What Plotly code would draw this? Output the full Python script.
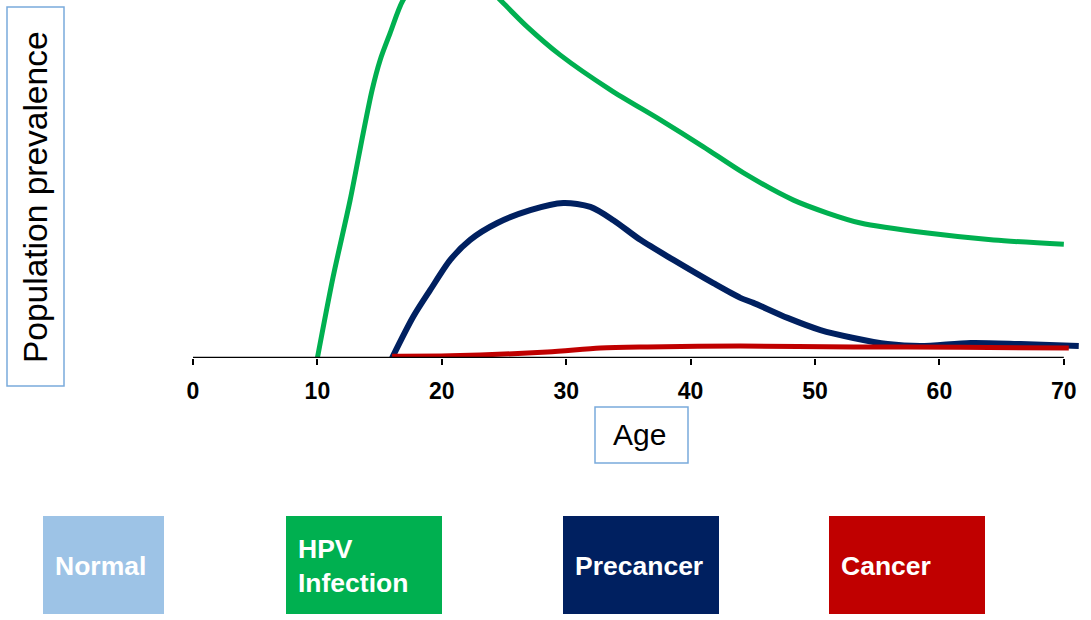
import plotly.graph_objects as go

# Natural history of HPV: prevalence by age (arbitrary units, 0-100 = visible height)
hpv_age = [10, 11.26, 12.63, 13.68, 14.40, 15.04, 15.85, 16.89, 18.5, 20.5, 23.0, 24.7,
           26.87, 29.53, 33.55, 37.57, 41.03, 44.25, 48.27, 51.0, 53.66, 59.05, 64.36, 70]
hpv_prev = [0, 22.6, 44.1, 62.8, 74.9, 83.2, 90.8, 100, 107, 110, 106, 100,
            92.5, 84.6, 74.9, 66.5, 59.0, 51.7, 44.1, 40.5, 37.7, 34.9, 32.96, 31.8]

pre_age = [16.0, 17.70, 19.07, 20.68, 22.28, 24.46, 27.11, 29.77, 31.94, 33.79, 35.96,
           38.62, 41.83, 44.0, 45.05, 47.79, 50.44, 53.10, 55.83, 58.49, 62.51, 66.53, 71.2]
pre_prev = [0, 11.5, 19.0, 27.4, 33.0, 37.7, 41.3, 43.3, 42.2, 38.5, 33.0,
            27.4, 20.9, 16.8, 15.4, 11.2, 7.8, 5.6, 3.9, 3.35, 4.2, 3.9, 3.35]

cancer_age = [16.0, 20.68, 28.48, 32.74, 36.52, 44.0, 53.1, 61.7, 70.4]
cancer_prev = [0.5, 0.6, 1.7, 2.8, 3.1, 3.35, 3.1, 3.0, 2.8]

x_ticks = [0, 10, 20, 30, 40, 50, 60, 70]

legend_labels = ["Normal", "HPV<br>Infection", "Precancer", "Cancer"]
legend_colors = ["#9dc3e6", "#00b050", "#002060", "#c00000"]

W, H = 1091, 620
L, R, T, B = 193, 11, 0, 262
PW, PH = W - L - R, H - T - B


def px(x):
    return (x - L) / PW


def py(y):
    return (H - B - y) / PH


FONT = "Liberation Sans, Arial, sans-serif"

fig = go.Figure()
fig.add_trace(go.Scatter(x=hpv_age, y=hpv_prev, mode="lines", line=dict(color="#00b050", width=5, shape="spline", smoothing=0.8)))
fig.add_trace(go.Scatter(x=pre_age, y=pre_prev, mode="lines", line=dict(color="#002060", width=6, shape="spline", smoothing=0.8)))
fig.add_trace(go.Scatter(x=cancer_age, y=cancer_prev, mode="lines", line=dict(color="#c00000", width=5, shape="spline", smoothing=0.8)))

shapes = [
    # x axis baseline from 0 to 70
    dict(type="line", xref="x", yref="y", x0=0, x1=70, y0=0, y1=0,
         line=dict(color="black", width=2.5), layer="above"),
    # title frames
    dict(type="rect", xref="paper", yref="paper", x0=px(7), x1=px(64), y0=py(7), y1=py(386),
         line=dict(color="#7aaadc", width=1.5)),
    dict(type="rect", xref="paper", yref="paper", x0=px(595), x1=px(688), y0=py(407), y1=py(463),
         line=dict(color="#7aaadc", width=1.5)),
]

annotations = [
    dict(text="Population prevalence", xref="paper", yref="paper", x=px(35), y=py(197),
         textangle=-90, showarrow=False, xanchor="center", yanchor="middle",
         font=dict(family=FONT, size=33.5, color="black")),
    dict(text="Age", xref="paper", yref="paper", x=px(639), y=py(435),
         showarrow=False, xanchor="center", yanchor="middle",
         font=dict(family=FONT, size=30, color="black")),
]

box_x = [(43, 164), (286, 442), (563, 719), (829, 985)]
for (x0, x1), label, color in zip(box_x, legend_labels, legend_colors):
    shapes.append(dict(type="rect", xref="paper", yref="paper", x0=px(x0), x1=px(x1),
                       y0=py(516), y1=py(614), fillcolor=color, line=dict(width=0)))
    annotations.append(dict(text="<b>" + label + "</b>", xref="paper", yref="paper",
                            x=px(x0 + 10), y=py(566), showarrow=False, xanchor="left",
                            yanchor="middle", align="left",
                            font=dict(family=FONT, size=26.5, color="white")))

fig.update_layout(
    width=W, height=H,
    margin=dict(l=L, r=R, t=T, b=B, pad=0),
    paper_bgcolor="white", plot_bgcolor="white",
    showlegend=False,
    shapes=shapes, annotations=annotations,
    xaxis=dict(range=[0, 71.3], tickvals=x_ticks, ticktext=["<b>%d</b>" % v for v in x_ticks],
               ticks="outside", ticklen=6, tickwidth=2, tickcolor="black",
               showline=False, showgrid=False, zeroline=False, ticklabelstandoff=6,
               tickfont=dict(family=FONT, size=23, color="black")),
    yaxis=dict(range=[0, 100], showticklabels=False, showgrid=False, zeroline=False,
               showline=False, ticks=""),
)

fig.write_html("out.html", config={"displayModeBar": False})
